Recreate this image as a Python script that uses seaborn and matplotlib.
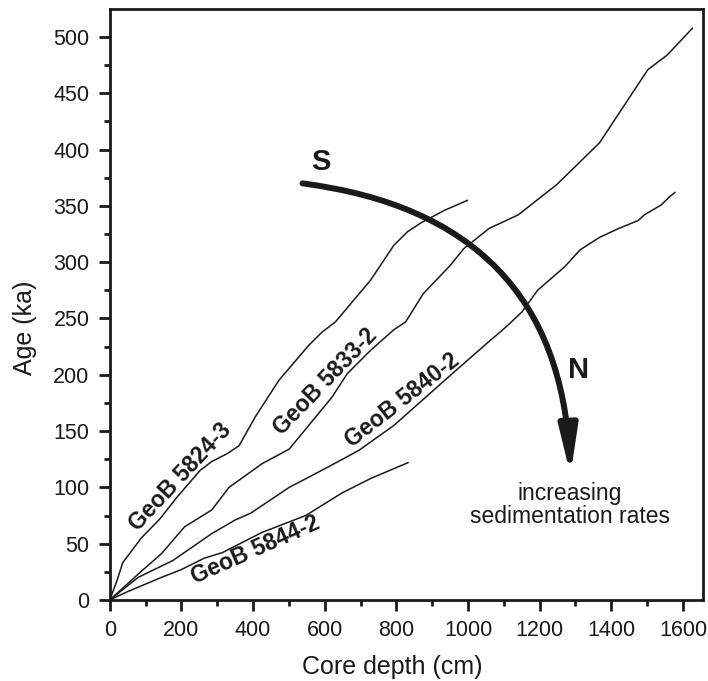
import numpy as np
import pandas as pd
import matplotlib.pyplot as plt
import seaborn as sns

# depth (cm) / age (ka)
depth_5824 = [0, 20, 36, 88, 140, 187, 252, 285, 328, 361, 407, 472, 555, 593, 630, 728, 793, 831, 869, 934, 999]
age_5824 = [0, 17, 33, 55, 72, 91, 115, 123, 130, 137, 163, 195, 226, 238, 247, 284, 315, 327, 335, 346, 355]

depth_5833 = [0, 90, 144, 209, 285, 333, 425, 501, 620, 663, 729, 793, 826, 875, 950, 988, 1059, 1140, 1248, 1367, 1502, 1556, 1627]
age_5833 = [0, 26, 41, 65, 80, 100, 121, 134, 180, 201, 222, 240, 247, 272, 297, 312, 330, 342, 369, 406, 471, 484, 508]

depth_5840 = [0, 79, 176, 285, 350, 393, 501, 609, 696, 793, 956, 1053, 1097, 1118, 1151, 1194, 1270, 1313, 1367, 1421, 1475, 1492, 1540, 1562, 1578]
age_5840 = [0, 20, 35, 59, 71, 77, 100, 118, 133, 155, 201, 228, 240, 246, 256, 275, 296, 311, 322, 330, 337, 342, 351, 358, 362]

depth_5844 = [0, 47, 144, 200, 263, 314, 425, 547, 648, 729, 833]
age_5844 = [0, 7, 20, 27, 37, 42, 60, 75, 95, 108, 122]

cores = ["GeoB 5824-3", "GeoB 5833-2", "GeoB 5840-2", "GeoB 5844-2"]
label_x = [197, 601, 817, 407]
label_y = [109, 194, 177, 44]
label_rot = [47, 46, 38, 24]

sns.set_style("ticks")
plt.rcParams['font.family'] = ['Liberation Sans', 'DejaVu Sans']
ink = "#1a1a1a"

fig = plt.figure(figsize=(7.08, 6.81), dpi=100)
ax = fig.add_axes([0.155, 0.119, 0.838, 0.868])

frames = []
for name, d, a in zip(cores, [depth_5824, depth_5833, depth_5840, depth_5844],
                      [age_5824, age_5833, age_5840, age_5844]):
    frames.append(pd.DataFrame({"depth": d, "age": a, "core": name}))
df = pd.concat(frames, ignore_index=True)

for name in cores:
    sns.lineplot(data=df[df.core == name], x="depth", y="age", sort=False,
                 color=ink, linewidth=1.1, ax=ax, estimator=None)

for name, lx, ly, r in zip(cores, label_x, label_y, label_rot):
    ax.text(lx, ly, name, rotation=r, rotation_mode="anchor", ha="center", va="center",
            fontsize=16.5, fontweight="bold", color=ink)

# S -> N arrow
ax.annotate("", xy=(1286, 111), xytext=(538, 370),
            arrowprops=dict(arrowstyle="-|>,head_length=2.8,head_width=0.55",
                            connectionstyle="arc3,rad=-0.42", color=ink,
                            linewidth=4.3, mutation_scale=10, shrinkA=0, shrinkB=0))
ax.text(590, 389, "S", fontsize=21, fontweight="bold", ha="center", va="center", color=ink)
ax.text(1309, 204, "N", fontsize=21, fontweight="bold", ha="center", va="center", color=ink)
ax.text(1284, 84, "increasing\nsedimentation rates", fontsize=16.5, ha="center", va="center",
        linespacing=1.0, color=ink)

ax.set_xlim(0, 1656)
ax.set_ylim(0, 525)
ax.set_xticks(np.arange(0, 1601, 200))
ax.set_xticks(np.arange(100, 1601, 200), minor=True)
ax.set_yticks(np.arange(0, 501, 50))
ax.set_yticks(np.arange(25, 501, 50), minor=True)
ax.tick_params(which="major", direction="out", length=8, width=2, labelsize=15.5, color=ink,
               labelcolor=ink, pad=6.5)
ax.tick_params(which="minor", direction="out", length=4, width=2, color=ink)
for s in ax.spines.values():
    s.set_linewidth(2)
    s.set_color(ink)
ax.set_xlabel("Core depth (cm)", fontsize=18, color=ink)
ax.set_ylabel("Age (ka)", fontsize=18, color=ink)
ax.xaxis.set_label_coords(0.477, -0.093)
ax.yaxis.set_label_coords(-0.122, 0.46)

fig.savefig("out.png", dpi=100)
